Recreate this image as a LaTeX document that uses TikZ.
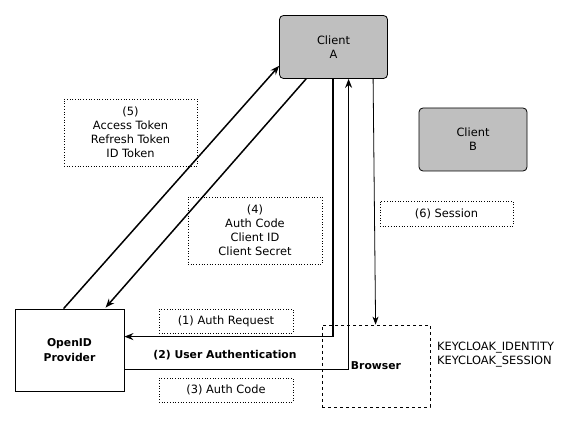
\documentclass[tikz,border=0pt]{standalone}
\usepackage{fontspec}
\setmainfont{DejaVu Sans}
\usetikzlibrary{arrows.meta,calc}
\begin{document}
\begin{tikzpicture}[x=1pt,y=-1pt,
  font=\fontsize{11.4}{14}\selectfont,
  boldtxt/.style={font=\fontsize{10.8}{15}\selectfont\bfseries},
  client/.style={draw,line width=0.8pt,fill=black!25,rounded corners=4pt,minimum width=108pt,minimum height=63pt,inner sep=0pt,align=center},
  plainbox/.style={draw,line width=0.8pt,minimum width=109pt,minimum height=82pt,inner sep=0pt,align=center},
  dashbox/.style={draw,dashed,line width=0.8pt,minimum width=108pt,minimum height=82pt,inner sep=0pt,align=center},
  lbl/.style={draw,dotted,line width=0.7pt,inner sep=0pt,align=center},
  flow/.style={line width=1.5pt,-{Stealth[length=9pt,width=7pt,inset=3pt]}},
  thinflow/.style={line width=0.8pt,-{Stealth[length=8pt,width=6pt,inset=2.5pt]}}]
\useasboundingbox (0,0) rectangle (579,422);
\node[client] (ca) at (333.5,47) {Client\\A};
\node[client] (cb) at (473,139.5) {Client\\B};
\node[plainbox,boldtxt] (op) at (69.5,350) {OpenID\\Provider};
\node[dashbox,boldtxt] (br) at (376,366) {Browser};
\node[anchor=west,align=left,inner sep=0pt] (kc) at (437,354.5) {KEYCLOAK\_IDENTITY\\KEYCLOAK\_SESSION};
\node[lbl,minimum width=133pt,minimum height=67pt] (l5) at (130.5,132.5) {(5)\\Access Token\\Refresh Token\\ID Token};
\node[lbl,minimum width=134pt,minimum height=67pt] (l4) at (255,230.5) {(4)\\Auth Code\\Client ID\\Client Secret};
\node[lbl,minimum width=133pt,minimum height=25pt] (l6) at (446.5,213.5) {(6) Session};
\node[lbl,minimum width=134pt,minimum height=24pt] (l1) at (226,321) {(1) Auth Request};
\node[lbl,minimum width=134pt,minimum height=24pt] (l3) at (226,390) {(3) Auth Code};
\node[boldtxt,inner sep=0pt] (l2) at (225,355) {(2) User Authentication};
% (5) tokens
\draw[flow] ($(op.north west)+(49,0)$) -- ($(ca.south west)+(0,-13)$);
% (4) auth code
\draw[flow] ($(ca.south west)+(27,0)$) -- ($(op.north west)+(91,-1)$);
% (1) auth request
\draw[flow] ($(ca.south west)+(54,0)$) |- ($(op.north east)+(0,28)$);
% (2)/(3) user authentication & auth code
\draw[flow] ($(op.north east)+(0,61)$) -| ($(ca.south west)+(69.5,0)$);
% (6) session
\draw[thinflow] ($(ca.south west)+(94,0)$) -- ($(br.north west)+(54,0)$);
\end{tikzpicture}
\end{document}
